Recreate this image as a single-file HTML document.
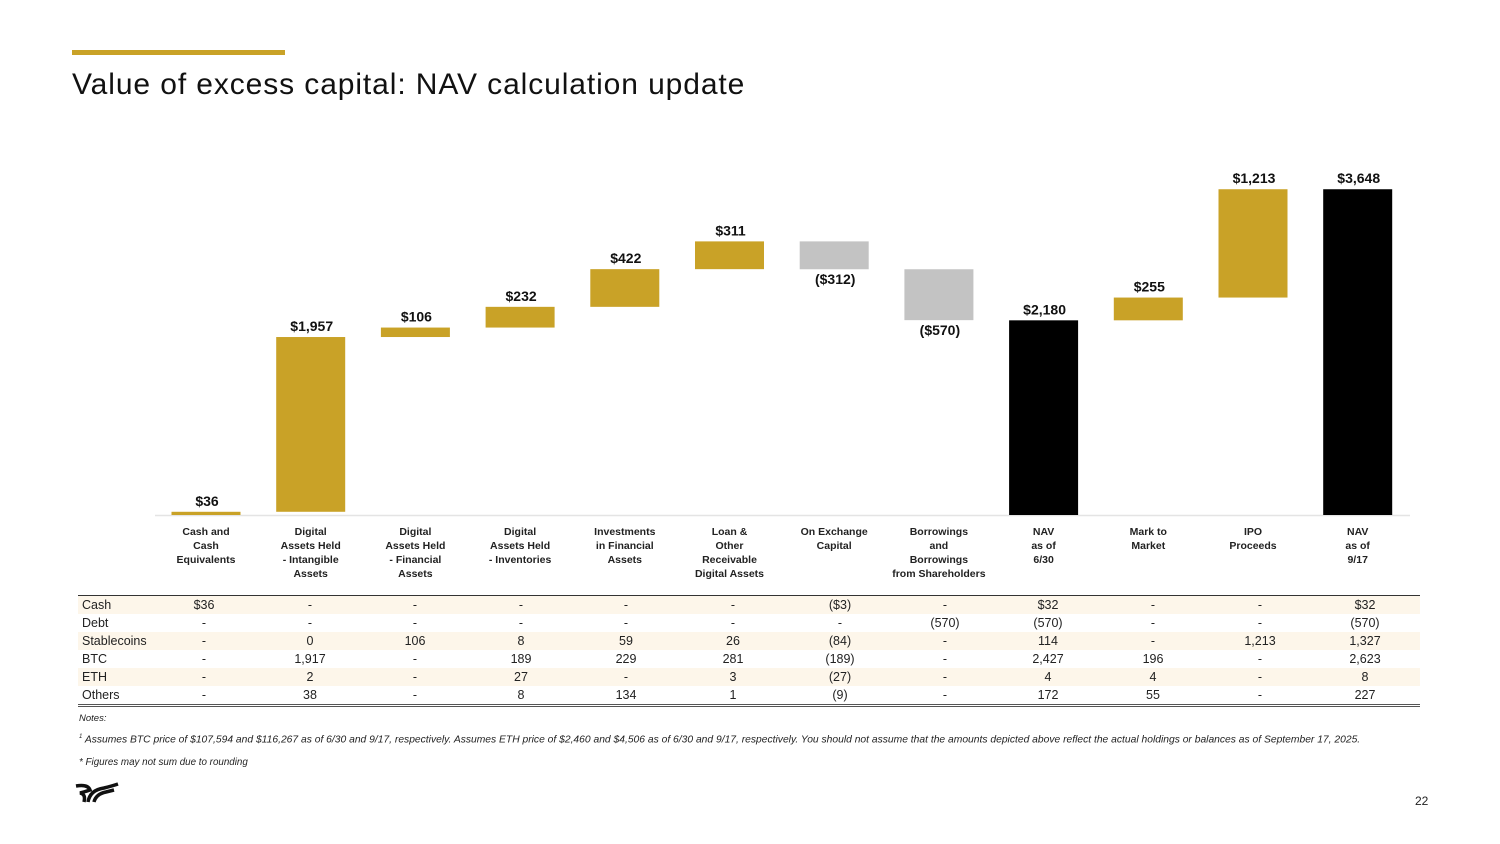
<!DOCTYPE html>
<html><head><meta charset="utf-8"><style>
body{margin:0;width:1500px;height:844px;background:#fff;font-family:"Liberation Sans",sans-serif;position:relative;overflow:hidden}
.abs{position:absolute}
#notes{left:79px;font-style:italic;font-size:9.5px;color:#222}
</style></head><body>
<div class="abs" style="left:72px;top:50px;width:213px;height:5px;background:#c9a227"></div>
<div class="abs" style="left:72px;top:68px;font-size:30px;letter-spacing:0.9px;color:#111">Value of excess capital: NAV calculation update</div>
<svg class="abs" id="chart" style="left:0;top:0" width="1500" height="720"></svg>
<div class="abs" id="notes" style="top:713px">Notes:</div>
<div class="abs" style="left:79px;top:731px;width:1345px;font-style:italic;font-size:10.3px;color:#222;line-height:13px"><sup style="font-size:6px">1</sup> Assumes BTC price of $107,594 and $116,267 as of 6/30 and 9/17, respectively. Assumes ETH price of $2,460 and $4,506 as of 6/30 and 9/17, respectively. You should not assume that the amounts depicted above reflect the actual holdings or balances as of September 17, 2025.</div>
<div class="abs" style="left:79px;top:757px;font-style:italic;font-size:9.8px;color:#222">* Figures may not sum due to rounding</div>
<svg class="abs" style="left:74px;top:782px" width="46" height="24"><path d="M2 4 Q14 2 16 8 Q10 10 6 11 Q12 12 10 20 M14 20 Q16 8 30 6 Q38 4 44 2 M20 20 Q22 12 32 10 L40 8" stroke="#111" stroke-width="3.5" fill="none"/></svg>
<div class="abs" style="left:1415px;top:794px;font-size:12px;color:#222">22</div>
<script>
const categories=["Cash and<br>Cash<br>Equivalents","Digital<br>Assets Held<br>- Intangible<br>Assets","Digital<br>Assets Held<br>- Financial<br>Assets","Digital<br>Assets Held<br>- Inventories","Investments<br>in Financial<br>Assets","Loan &amp;<br>Other<br>Receivable<br>Digital Assets","On Exchange<br>Capital","Borrowings<br>and<br>Borrowings<br>from Shareholders","NAV<br>as of<br>6/30","Mark to<br>Market","IPO<br>Proceeds","NAV<br>as of<br>9/17"];
const values=[36,1957,106,232,422,311,-312,-570,2180,255,1213,3648];
const isTotal=[false,false,false,false,false,false,false,false,true,false,false,true];
const valueLabels=["$36","$1,957","$106","$232","$422","$311","($312)","($570)","$2,180","$255","$1,213","$3,648"];
const rowNames=["Cash","Debt","Stablecoins","BTC","ETH","Others"];
const tableRows=[
["$36","-","-","-","-","-","($3)","-","$32","-","-","$32"],
["-","-","-","-","-","-","-","(570)","(570)","-","-","(570)"],
["-","0","106","8","59","26","(84)","-","114","-","1,213","1,327"],
["-","1,917","-","189","229","281","(189)","-","2,427","196","-","2,623"],
["-","2","-","27","-","3","(27)","-","4","4","-","8"],
["-","38","-","8","134","1","(9)","-","172","55","-","227"]];
const NS="http://www.w3.org/2000/svg";
const svg=document.getElementById('chart');
const base=515,scale=0.0893,x0=206,step=104.7,bw=69;
const y=v=>base-v*scale, xc=i=>x0+i*step;
function mk(t,a){const e=document.createElementNS(NS,t);for(const k in a)e.setAttribute(k,a[k]);svg.appendChild(e);return e;}
const ax=mk('line',{x1:155,x2:1410,y1:base+0.5,y2:base+0.5,stroke:'#e4e4e4','stroke-width':1.5});


let cum=0;
values.forEach((v,i)=>{
  let lo,hi,col;
  if(isTotal[i]){lo=0;hi=v;cum=v;col='#000';}
  else{const s=cum;cum+=v;lo=Math.min(s,cum);hi=Math.max(s,cum);col=v<0?'#c3c3c3':'#c9a227';}
  const r=mk('rect',{x:xc(i)-bw/2,y:y(hi),width:bw,height:Math.max(2,(hi-lo)*scale),fill:col});
  
  
  const ty=v<0?y(lo)+15:y(hi)-6;
  const t=mk('text',{x:xc(i)+1,y:ty,'text-anchor':'middle','font-size':14,'font-weight':'bold',fill:'#111','font-family':'Liberation Sans'});
  t.textContent=valueLabels[i];
  
  
});
categories.forEach((c,i)=>{
  const d=document.createElement('div');
  d.className='abs';
  d.style.cssText=`left:${xc(i)-60}px;top:525px;width:120px;text-align:center;font-size:10.5px;font-weight:bold;line-height:14px;color:#222`;
  d.innerHTML=c;
  
  
  document.body.appendChild(d);
});
const tcx=[204,310,415,521,626,733,840,945,1048,1153,1260,1365];
const tbl=document.createElement('div');
tbl.className='abs';
tbl.style.cssText='left:78px;top:595px;width:1342px;height:108px;border-top:1.5px solid #333;border-bottom:3px double #555';


document.body.appendChild(tbl);
rowNames.forEach((n,r)=>{
  const row=document.createElement('div');
  row.className='abs';
  row.style.cssText=`left:78px;top:${596+r*18}px;width:1342px;height:18px;background:${r%2==0?'#fdf6ea':'#fff'};font-size:12.5px;color:#222;line-height:18px`;
  
  
  let h=`<span style="position:absolute;left:4px">${n}</span>`;
  tableRows[r].forEach((v,i)=>{h+=`<span style="position:absolute;left:${tcx[i]-78-40}px;width:80px;text-align:center">${v}</span>`;});
  row.innerHTML=h;
  document.body.appendChild(row);
});
</script>
</body></html>
